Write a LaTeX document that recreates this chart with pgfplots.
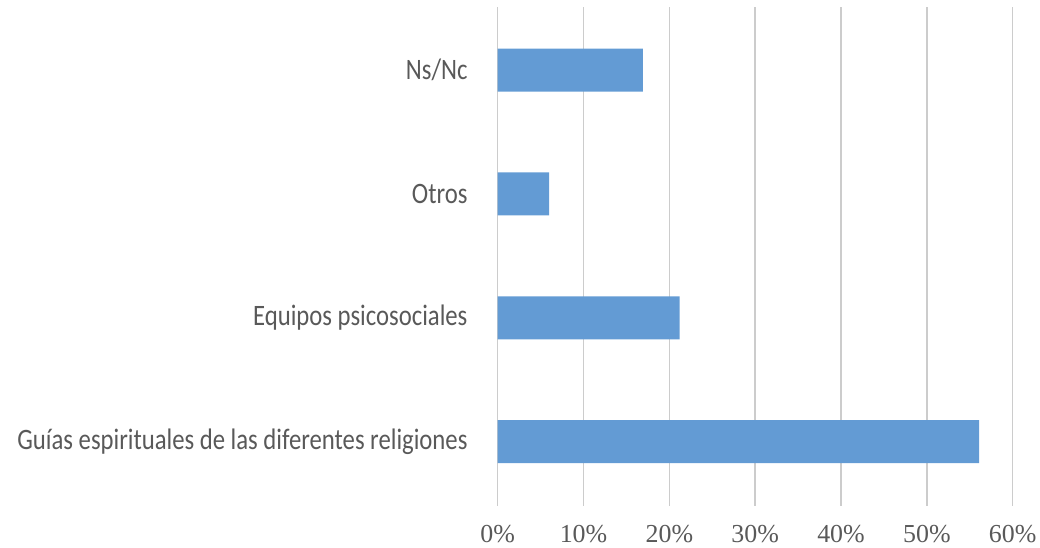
\documentclass[border=0pt]{standalone}
\usepackage{pgfplots}
\pgfplotsset{compat=1.18}
\usepackage{graphicx}
\usepackage{fontspec}
\setmainfont{Carlito}
\newfontfamily\tnr{Liberation Serif}
\definecolor{barblue}{RGB}{99,155,212}
\definecolor{gridgray}{RGB}{204,204,204}
\definecolor{textgray}{RGB}{89,89,89}
\newcommand{\lab}[1]{\scalebox{1}[1.2]{#1}}
\begin{document}
\begin{tikzpicture}[x=1bp,y=1bp]
\path[use as bounding box] (-497.7,-42) rectangle (542.3,506);
\begin{axis}[
  at={(0,0)}, anchor=south west,
  scale only axis, width=515bp, height=499bp,
  xmin=0, xmax=60, ymin=-0.52, ymax=3.51,
  xbar, bar width=43bp,
  xtick={0,10,20,30,40,50,60},
  xticklabels={0\%,10\%,20\%,30\%,40\%,50\%,60\%},
  ytick={0,1,2,3},
  yticklabels={\lab{Guías espirituales de las diferentes religiones},\lab{Equipos psicosociales},\lab{Otros},\lab{Ns/Nc}},
  xmajorgrids, grid style={gridgray, line width=1.5bp},
  axis line style={draw=none}, major tick length=0pt,
  xticklabel style={font=\tnr\fontsize{26}{30}\selectfont, text=textgray, inner sep=0pt, yshift=-19bp},
  yticklabel style={font=\fontsize{24.8}{28}\selectfont, text=textgray, inner sep=0pt, xshift=-30bp},
]
\addplot[fill=barblue, draw=none] coordinates {(56.1,0) (21.2,1) (6.0,2) (16.9,3)};
\end{axis}
\end{tikzpicture}
\end{document}
